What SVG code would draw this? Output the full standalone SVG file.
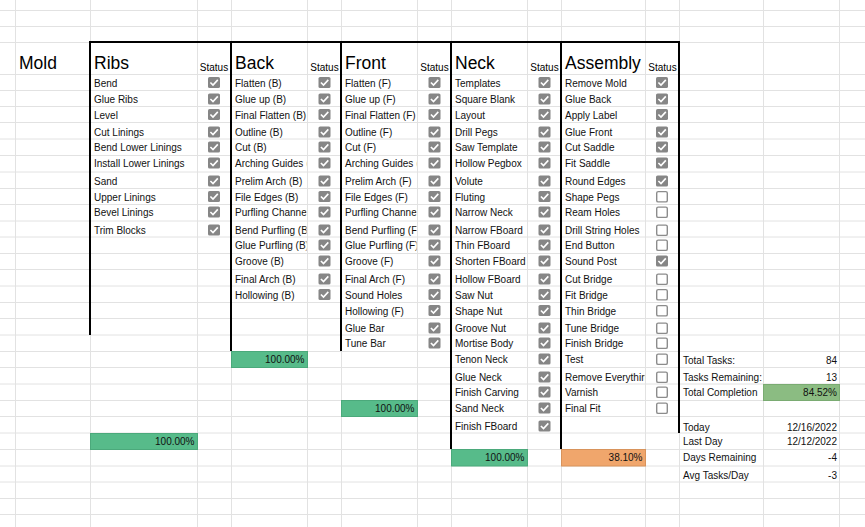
<svg xmlns="http://www.w3.org/2000/svg" xmlns:xlink="http://www.w3.org/1999/xlink" width="865" height="527" viewBox="0 0 865 527">
<style>
.grid line{stroke:#e2e2e2;stroke-width:1}
.bd line{stroke:#000;stroke-width:2}
.t{font-family:"Liberation Sans",Arial,sans-serif;font-size:10px;fill:#111}
.h{font-family:"Liberation Sans",Arial,sans-serif;font-size:17.5px;fill:#000}
.st{font-family:"Liberation Sans",Arial,sans-serif;font-size:10px;fill:#000;text-anchor:middle}
.r{text-anchor:end}
.g{fill:#57bb8a;stroke:#4ba97b;stroke-width:1}
.o{fill:#f0a66c;stroke:#d8935b;stroke-width:1}
.lg{fill:#8bbc82;stroke:#7aab72;stroke-width:1}
</style>
<defs>
<g id="on"><rect x="-6" y="-5.5" width="12" height="11" rx="1.6" fill="#868686"/><polyline points="-3.6,0 -1,2.6 3.8,-2.6" fill="none" stroke="#fff" stroke-width="1.6"/></g>
<g id="off"><rect x="-5.3" y="-4.9" width="10.6" height="10.3" rx="1.5" fill="#fff" stroke="#8c8c8c" stroke-width="1.4"/></g>
<clipPath id="c1"><rect x="90" y="40" width="106" height="400"/></clipPath>
<clipPath id="c2"><rect x="231" y="40" width="75.5" height="400"/></clipPath>
<clipPath id="c3"><rect x="341" y="40" width="75.5" height="400"/></clipPath>
<clipPath id="c4"><rect x="451" y="40" width="75.5" height="400"/></clipPath>
<clipPath id="c5"><rect x="561" y="40" width="83.5" height="400"/></clipPath>
</defs>
<rect width="865" height="527" fill="#fff"/>
<g class="grid">
<line x1="15.5" y1="0" x2="15.5" y2="527"/><line x1="90.5" y1="0" x2="90.5" y2="527"/><line x1="197.5" y1="0" x2="197.5" y2="527"/><line x1="231.5" y1="0" x2="231.5" y2="527"/><line x1="307.5" y1="0" x2="307.5" y2="527"/><line x1="341.5" y1="0" x2="341.5" y2="527"/><line x1="417.5" y1="0" x2="417.5" y2="527"/><line x1="451.5" y1="0" x2="451.5" y2="527"/><line x1="527.5" y1="0" x2="527.5" y2="527"/><line x1="561.5" y1="0" x2="561.5" y2="527"/><line x1="645.5" y1="0" x2="645.5" y2="527"/><line x1="679.5" y1="0" x2="679.5" y2="527"/><line x1="763.5" y1="0" x2="763.5" y2="527"/><line x1="839.5" y1="0" x2="839.5" y2="527"/>
<line x1="0" y1="10.5" x2="865" y2="10.5"/><line x1="0" y1="26.5" x2="865" y2="26.5"/><line x1="0" y1="42.5" x2="865" y2="42.5"/><line x1="0" y1="74.5" x2="865" y2="74.5"/><line x1="0" y1="90.5" x2="865" y2="90.5"/><line x1="0" y1="106.5" x2="865" y2="106.5"/><line x1="0" y1="122.5" x2="865" y2="122.5"/><line x1="0" y1="139" x2="865" y2="139"/><line x1="0" y1="155.5" x2="865" y2="155.5"/><line x1="0" y1="172" x2="865" y2="172"/><line x1="0" y1="188.5" x2="865" y2="188.5"/><line x1="0" y1="204.5" x2="865" y2="204.5"/><line x1="0" y1="221" x2="865" y2="221"/><line x1="0" y1="237" x2="865" y2="237"/><line x1="0" y1="253.5" x2="865" y2="253.5"/><line x1="0" y1="269.5" x2="865" y2="269.5"/><line x1="0" y1="286" x2="865" y2="286"/><line x1="0" y1="302.5" x2="865" y2="302.5"/><line x1="0" y1="318.5" x2="865" y2="318.5"/><line x1="0" y1="335" x2="865" y2="335"/><line x1="0" y1="351.5" x2="865" y2="351.5"/><line x1="0" y1="367.5" x2="865" y2="367.5"/><line x1="0" y1="384" x2="865" y2="384"/><line x1="0" y1="400.5" x2="865" y2="400.5"/><line x1="0" y1="416.5" x2="865" y2="416.5"/><line x1="0" y1="433" x2="865" y2="433"/><line x1="0" y1="449.5" x2="865" y2="449.5"/><line x1="0" y1="466" x2="865" y2="466"/><line x1="0" y1="482" x2="865" y2="482"/><line x1="0" y1="498.5" x2="865" y2="498.5"/><line x1="0" y1="514.5" x2="865" y2="514.5"/>
</g>
<g id="fills">
<rect class="g" x="90.5" y="433.5" width="107" height="16"/>
<rect class="g" x="231.5" y="351.5" width="76" height="16"/>
<rect class="g" x="341.5" y="400.5" width="76" height="16"/>
<rect class="g" x="451.5" y="449.5" width="76" height="16.5"/>
<rect class="o" x="561.5" y="449.5" width="84" height="16.5"/>
<rect class="lg" x="763.5" y="384.5" width="76" height="16"/>
</g>
<g id="borders" class="bd">
<line x1="89" y1="42" x2="680" y2="42"/>
<line x1="90" y1="42" x2="90" y2="335"/>
<line x1="231" y1="42" x2="231" y2="351"/>
<line x1="341" y1="42" x2="341" y2="351"/>
<line x1="451" y1="42" x2="451" y2="449"/>
<line x1="561" y1="42" x2="561" y2="449"/>
<line x1="679" y1="42" x2="679" y2="433"/>
</g>
<g id="mold"><text class="h" x="19" y="68.5">Mold</text></g>
<g id="ribs">
<text class="h" x="94" y="68.5">Ribs</text><text class="st" x="214" y="71">Status</text>
<g clip-path="url(#c1)">
<text class="t" x="94" y="86.5">Bend</text><text class="t" x="94" y="103">Glue Ribs</text><text class="t" x="94" y="118.5">Level</text><text class="t" x="94" y="136">Cut Linings</text><text class="t" x="94" y="151">Bend Lower Linings</text><text class="t" x="94" y="167">Install Lower Linings</text><text class="t" x="94" y="185">Sand</text><text class="t" x="94" y="200.5">Upper Linings</text><text class="t" x="94" y="216">Bevel Linings</text><text class="t" x="94" y="234">Trim Blocks</text>
</g>
<use href="#on" x="214" y="82.5"/><use href="#on" x="214" y="99"/><use href="#on" x="214" y="114.5"/><use href="#on" x="214" y="132"/><use href="#on" x="214" y="147"/><use href="#on" x="214" y="163"/><use href="#on" x="214" y="181"/><use href="#on" x="214" y="196.5"/><use href="#on" x="214" y="212"/><use href="#on" x="214" y="230"/>
<text class="t r" x="194.5" y="444.5">100.00%</text>
</g>
<g id="back">
<text class="h" x="235" y="68.5">Back</text><text class="st" x="324.5" y="71">Status</text>
<g clip-path="url(#c2)">
<text class="t" x="235" y="86.5">Flatten (B)</text><text class="t" x="235" y="103">Glue up (B)</text><text class="t" x="235" y="118.5">Final Flatten (B)</text><text class="t" x="235" y="136">Outline (B)</text><text class="t" x="235" y="151">Cut (B)</text><text class="t" x="235" y="167">Arching Guides (</text><text class="t" x="235" y="185">Prelim Arch (B)</text><text class="t" x="235" y="200.5">File Edges (B)</text><text class="t" x="235" y="216">Purfling Channel</text><text class="t" x="235" y="234">Bend Purfling (B</text><text class="t" x="235" y="249">Glue Purfling (B)</text><text class="t" x="235" y="265">Groove (B)</text><text class="t" x="235" y="283">Final Arch (B)</text><text class="t" x="235" y="298.5">Hollowing (B)</text>
</g>
<use href="#on" x="324.5" y="82.5"/><use href="#on" x="324.5" y="99"/><use href="#on" x="324.5" y="114.5"/><use href="#on" x="324.5" y="132"/><use href="#on" x="324.5" y="147"/><use href="#on" x="324.5" y="163"/><use href="#on" x="324.5" y="181"/><use href="#on" x="324.5" y="196.5"/><use href="#on" x="324.5" y="212"/><use href="#on" x="324.5" y="230"/><use href="#on" x="324.5" y="245"/><use href="#on" x="324.5" y="261"/><use href="#on" x="324.5" y="279"/><use href="#on" x="324.5" y="294.5"/>
<text class="t r" x="304.5" y="363">100.00%</text>
</g>
<g id="front">
<text class="h" x="345" y="68.5">Front</text><text class="st" x="434.5" y="71">Status</text>
<g clip-path="url(#c3)">
<text class="t" x="345" y="86.5">Flatten (F)</text><text class="t" x="345" y="103">Glue up (F)</text><text class="t" x="345" y="118.5">Final Flatten (F)</text><text class="t" x="345" y="136">Outline (F)</text><text class="t" x="345" y="151">Cut (F)</text><text class="t" x="345" y="167">Arching Guides (</text><text class="t" x="345" y="185">Prelim Arch (F)</text><text class="t" x="345" y="200.5">File Edges (F)</text><text class="t" x="345" y="216">Purfling Channel</text><text class="t" x="345" y="234">Bend Purfling (F</text><text class="t" x="345" y="249">Glue Purfling (F)</text><text class="t" x="345" y="265">Groove (F)</text><text class="t" x="345" y="283">Final Arch (F)</text><text class="t" x="345" y="298.5">Sound Holes</text><text class="t" x="345" y="314.5">Hollowing (F)</text><text class="t" x="345" y="332">Glue Bar</text><text class="t" x="345" y="347">Tune Bar</text>
</g>
<use href="#on" x="434.5" y="82.5"/><use href="#on" x="434.5" y="99"/><use href="#on" x="434.5" y="114.5"/><use href="#on" x="434.5" y="132"/><use href="#on" x="434.5" y="147"/><use href="#on" x="434.5" y="163"/><use href="#on" x="434.5" y="181"/><use href="#on" x="434.5" y="196.5"/><use href="#on" x="434.5" y="212"/><use href="#on" x="434.5" y="230"/><use href="#on" x="434.5" y="245"/><use href="#on" x="434.5" y="261"/><use href="#on" x="434.5" y="279"/><use href="#on" x="434.5" y="294.5"/><use href="#on" x="434.5" y="310.5"/><use href="#on" x="434.5" y="328"/><use href="#on" x="434.5" y="343"/>
<text class="t r" x="414.5" y="412">100.00%</text>
</g>
<g id="neck">
<text class="h" x="455" y="68.5">Neck</text><text class="st" x="544.5" y="71">Status</text>
<g clip-path="url(#c4)">
<text class="t" x="455" y="86.5">Templates</text><text class="t" x="455" y="103">Square Blank</text><text class="t" x="455" y="118.5">Layout</text><text class="t" x="455" y="136">Drill Pegs</text><text class="t" x="455" y="151">Saw Template</text><text class="t" x="455" y="167">Hollow Pegbox</text><text class="t" x="455" y="185">Volute</text><text class="t" x="455" y="200.5">Fluting</text><text class="t" x="455" y="216">Narrow Neck</text><text class="t" x="455" y="234">Narrow FBoard</text><text class="t" x="455" y="249">Thin FBoard</text><text class="t" x="455" y="265">Shorten FBoard</text><text class="t" x="455" y="283">Hollow FBoard</text><text class="t" x="455" y="298.5">Saw Nut</text><text class="t" x="455" y="314.5">Shape Nut</text><text class="t" x="455" y="332">Groove Nut</text><text class="t" x="455" y="347">Mortise Body</text><text class="t" x="455" y="363">Tenon Neck</text><text class="t" x="455" y="381">Glue Neck</text><text class="t" x="455" y="396">Finish Carving</text><text class="t" x="455" y="412">Sand Neck</text><text class="t" x="455" y="430">Finish FBoard</text>
</g>
<use href="#on" x="544.5" y="82.5"/><use href="#on" x="544.5" y="99"/><use href="#on" x="544.5" y="114.5"/><use href="#on" x="544.5" y="132"/><use href="#on" x="544.5" y="147"/><use href="#on" x="544.5" y="163"/><use href="#on" x="544.5" y="181"/><use href="#on" x="544.5" y="196.5"/><use href="#on" x="544.5" y="212"/><use href="#on" x="544.5" y="230"/><use href="#on" x="544.5" y="245"/><use href="#on" x="544.5" y="261"/><use href="#on" x="544.5" y="279"/><use href="#on" x="544.5" y="294.5"/><use href="#on" x="544.5" y="310.5"/><use href="#on" x="544.5" y="328"/><use href="#on" x="544.5" y="343"/><use href="#on" x="544.5" y="359"/><use href="#on" x="544.5" y="377"/><use href="#on" x="544.5" y="392"/><use href="#on" x="544.5" y="408"/><use href="#on" x="544.5" y="426"/>
<text class="t r" x="524.5" y="461">100.00%</text>
</g>
<g id="assembly">
<text class="h" x="565" y="68.5">Assembly</text><text class="st" x="662.5" y="71">Status</text>
<g clip-path="url(#c5)">
<text class="t" x="565" y="86.5">Remove Mold</text><text class="t" x="565" y="103">Glue Back</text><text class="t" x="565" y="118.5">Apply Label</text><text class="t" x="565" y="136">Glue Front</text><text class="t" x="565" y="151">Cut Saddle</text><text class="t" x="565" y="167">Fit Saddle</text><text class="t" x="565" y="185">Round Edges</text><text class="t" x="565" y="200.5">Shape Pegs</text><text class="t" x="565" y="216">Ream Holes</text><text class="t" x="565" y="234">Drill String Holes</text><text class="t" x="565" y="249">End Button</text><text class="t" x="565" y="265">Sound Post</text><text class="t" x="565" y="283">Cut Bridge</text><text class="t" x="565" y="298.5">Fit Bridge</text><text class="t" x="565" y="314.5">Thin Bridge</text><text class="t" x="565" y="332">Tune Bridge</text><text class="t" x="565" y="347">Finish Bridge</text><text class="t" x="565" y="363">Test</text><text class="t" x="565" y="381">Remove Everythin</text><text class="t" x="565" y="396">Varnish</text><text class="t" x="565" y="412">Final Fit</text>
</g>
<use href="#on" x="662" y="82.5"/><use href="#on" x="662" y="99"/><use href="#on" x="662" y="114.5"/><use href="#on" x="662" y="132"/><use href="#on" x="662" y="147"/><use href="#on" x="662" y="163"/><use href="#on" x="662" y="181"/><use href="#off" x="662" y="196.5"/><use href="#off" x="662" y="212"/><use href="#off" x="662" y="230"/><use href="#off" x="662" y="245"/><use href="#on" x="662" y="261"/><use href="#off" x="662" y="279"/><use href="#off" x="662" y="294.5"/><use href="#off" x="662" y="310.5"/><use href="#off" x="662" y="328"/><use href="#off" x="662" y="343"/><use href="#off" x="662" y="359"/><use href="#off" x="662" y="377"/><use href="#off" x="662" y="392"/><use href="#off" x="662" y="408"/>
<text class="t r" x="642.5" y="460.5">38.10%</text>
</g>
<g id="summary">
<text class="t" x="683" y="363.5">Total Tasks:</text><text class="t r" x="837" y="363.5">84</text>
<text class="t" x="683" y="381">Tasks Remaining:</text><text class="t r" x="837" y="381">13</text>
<text class="t" x="683" y="396">Total Completion</text><text class="t r" x="837" y="396">84.52%</text>
<text class="t" x="683" y="430.5">Today</text><text class="t r" x="837" y="430.5">12/16/2022</text>
<text class="t" x="683" y="445">Last Day</text><text class="t r" x="837" y="445">12/12/2022</text>
<text class="t" x="683" y="461">Days Remaining</text><text class="t r" x="837" y="461">-4</text>
<text class="t" x="683" y="479">Avg Tasks/Day</text><text class="t r" x="837" y="479">-3</text>
</g>
</svg>
